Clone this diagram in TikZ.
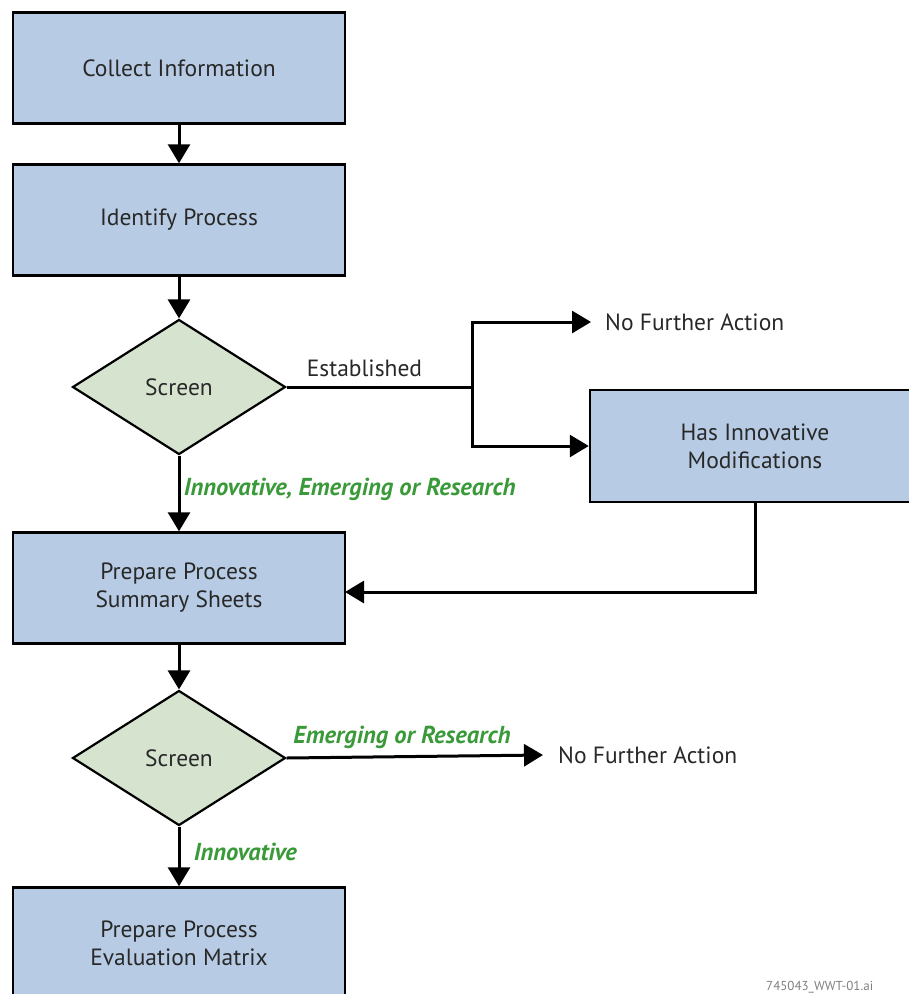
\documentclass[tikz,border=0pt]{standalone}
\usepackage{fontspec}
\setmainfont{PT Sans}
\usetikzlibrary{arrows.meta,shapes.geometric}
\definecolor{boxblue}{RGB}{183,204,228}
\definecolor{screengreen}{RGB}{214,227,207}
\definecolor{labelgreen}{RGB}{58,154,58}
\definecolor{textgray}{RGB}{40,40,40}
\tikzset{
  procbox/.style={draw, line width=2.5pt, fill=boxblue, minimum width=332pt, minimum height=111pt,
    align=center, text=textgray, font=\fontsize{23.5}{28}\selectfont},
  screenbox/.style={diamond, draw, line width=2.2pt, fill=screengreen, aspect=1.58, inner sep=0pt,
    minimum width=213pt, minimum height=135pt, text=textgray, font=\fontsize{23.5}{28}\selectfont},
  plain/.style={text=textgray, font=\fontsize{23.5}{28}\selectfont},
  choice/.style={text=labelgreen, font=\fontsize{24.5}{28}\selectfont\bfseries\itshape},
  flow/.style={line width=3pt, -{Triangle[length=19pt,width=22pt]}},
  joint/.style={line width=3pt}
}
\begin{document}
\begin{tikzpicture}[x=1pt, y=-1pt]
    \useasboundingbox (0,0) rectangle (909,994);
    \node[procbox] (collect) at (179,68) {Collect Information};
    \node[procbox] (identify) at (179,220) {Identify Process};
    \node[screenbox] (screenA) at (179,387) {Screen};
    \coordinate (split) at (472,387);
    \node[plain, anchor=west, inner xsep=14pt] (nfaA) at (591,322) {No Further Action};
    \node[procbox, minimum width=330pt, minimum height=112pt] (mods) at (755,446) {Has Innovative\\Modifications};
    \node[procbox] (summary) at (179,588) {Prepare Process\\Summary Sheets};
    \coordinate (rejoin) at (345,592);
    \node[screenbox] (screenB) at (179,758) {Screen};
    \node[plain, anchor=west, inner xsep=15pt] (nfaB) at (543,755) {No Further Action};
    \node[procbox] (evalm) at (179,943) {Prepare Process\\Evaluation Matrix};
    \node[anchor=north west, inner sep=0pt, text=gray, font=\fontsize{13}{14}\selectfont] (fileid) at (766,981) {745043\_WWT-01.ai};
    \draw[flow] (collect) -- (identify);
    \draw[flow] (identify) -- (screenA);
    \draw[joint] (screenA.east) -- node[plain, above=5pt, pos=.42] {Established} (split);
    \draw[flow] (split) |- (nfaA.west);
    \draw[flow] (split) |- (mods.west);
    \draw[flow] (screenA.south) -- node[choice, right, pos=.45] {Innovative, Emerging or Research} (summary.north);
    \draw[flow] (mods.south) |- (rejoin);
    \draw[flow] (summary) -- (screenB);
    \draw[flow] (screenB.east) -- node[choice, above=3pt, pos=.45] {Emerging or Research} (nfaB.west);
    \draw[flow] (screenB.south) -- node[choice, right=10pt, pos=.42] {Innovative} (evalm.north);
\end{tikzpicture}
\end{document}
